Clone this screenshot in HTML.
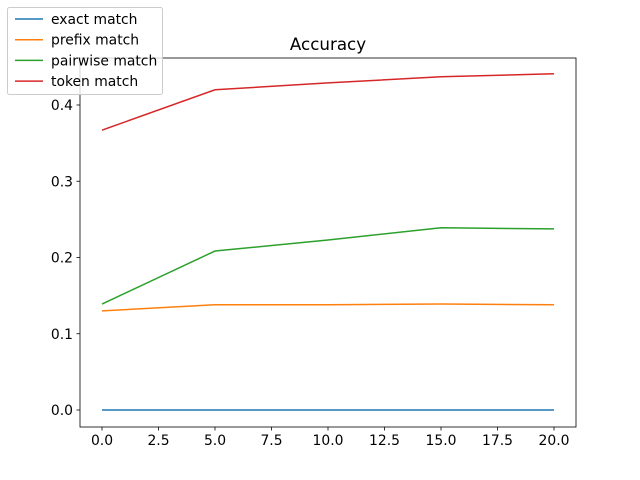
<!DOCTYPE html>
<html><head><meta charset="utf-8"><style>body{margin:0;background:#fff}svg{display:block;font-family:"DejaVu Sans","Liberation Sans",sans-serif}</style></head>
<body>
<svg id="chart" width="640" height="480"></svg>
<script>
const xValues=[0,5,10,15,20];
const exactMatch=[0,0,0,0,0];
const prefixMatch=[0.130,0.138,0.138,0.139,0.138];
const pairwiseMatch=[0.139,0.2085,0.223,0.239,0.2375];
const tokenMatch=[0.367,0.420,0.429,0.437,0.441];
const xTicks=[0,2.5,5,7.5,10,12.5,15,17.5,20];
const xTickLabels=["0.0","2.5","5.0","7.5","10.0","12.5","15.0","17.5","20.0"];
const yTicks=[0,0.1,0.2,0.3,0.4];
const yTickLabels=["0.0","0.1","0.2","0.3","0.4"];
const seriesNames=["exact match","prefix match","pairwise match","token match"];
const colors=["#1f77b4","#ff7f0e","#2ca02c","#d62728"];
const NS="http://www.w3.org/2000/svg";
const svg=document.getElementById('chart');
const L=80,R=576,T=58,B=427;
const sx=v=>102+(v-0)*(554-102)/20;
const sy=v=>410-v*762.5;
function mk(t,a,p){const e=document.createElementNS(NS,t);for(const k in a)e.setAttribute(k,a[k]);(p||svg).appendChild(e);return e;}
const frame=mk('rect',{x:L,y:T,width:R-L,height:B-T,fill:'none',stroke:'#000','stroke-width':0.8});


xTicks.forEach((v,i)=>{const g=mk('g',{});


mk('line',{x1:sx(v),x2:sx(v),y1:B,y2:B+3.5,stroke:'#000','stroke-width':0.8},g);
const t=mk('text',{x:sx(v),y:B+18,'text-anchor':'middle','font-size':13.9},g);t.textContent=xTickLabels[i];});
yTicks.forEach((v,i)=>{const g=mk('g',{});


mk('line',{x1:L-3.5,x2:L,y1:sy(v),y2:sy(v),stroke:'#000','stroke-width':0.8},g);
const t=mk('text',{x:L-7,y:sy(v)+5,'text-anchor':'end','font-size':13.9},g);t.textContent=yTickLabels[i];});
[exactMatch,prefixMatch,pairwiseMatch,tokenMatch].forEach((s,i)=>{
const p=mk('polyline',{points:s.map((v,j)=>sx(xValues[j])+','+sy(v)).join(' '),fill:'none',stroke:colors[i],'stroke-width':1.5});

});
const title=mk('text',{x:328,y:50,'text-anchor':'middle','font-size':16.7});title.textContent='Accuracy';


const lg=mk('g',{});


mk('rect',{x:7.5,y:7.5,width:155,height:87,rx:2,fill:'#fff','fill-opacity':0.8,stroke:'#ccc'},lg);
seriesNames.forEach((n,i)=>{const g=mk('g',{},lg);


const y=19+i*20.7;
mk('line',{x1:15,x2:43,y1:y,y2:y,stroke:colors[i],'stroke-width':1.5},g);
const t=mk('text',{x:51,y:y+5,'font-size':13.9},g);t.textContent=n;});
</script>
</body></html>
